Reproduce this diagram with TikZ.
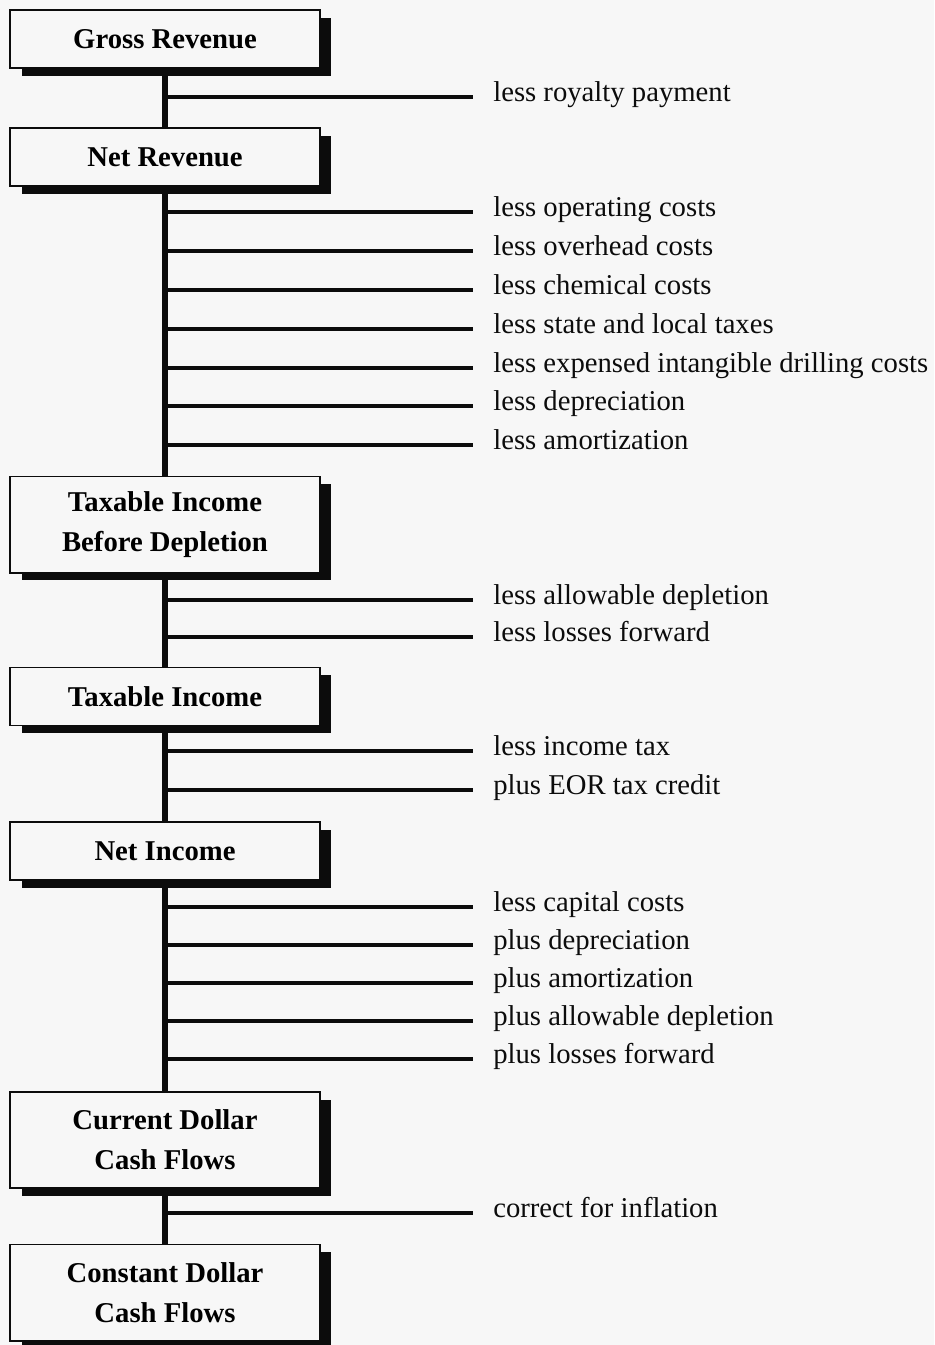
\documentclass[tikz,border=0pt]{standalone}
\usepackage{fontspec}
\setmainfont{Liberation Serif}
\usepackage{tikz}
\usetikzlibrary{positioning, shadows}
\usepackage{xcolor}
\definecolor{paper}{RGB}{247, 247, 247}
\definecolor{ink}{RGB}{12, 12, 12}
\newcommand{\flowfont}{\fontsize{20.4pt}{28.4pt}\selectfont}
\tikzset{
  stage/.style     = {rectangle, draw=ink, line width=1.4pt, fill=paper, minimum width=7.725cm, minimum height=1.45cm, align=center, inner sep=0pt, font=\flowfont\bfseries, drop shadow={shadow xshift=0.28cm, shadow yshift=-0.19cm, fill=ink, opacity=1}},
  stagetall/.style = {stage, minimum height=2.4cm},
  trunk/.style     = {ink, line width=4.2pt},
  branch/.style    = {ink, line width=2.6pt},
  adjust/.style    = {anchor=west, inner sep=0pt, text height=1.6ex, text depth=0.22ex, text=ink, font=\flowfont},
}

\begin{document}
\begin{tikzpicture}[x=0.025cm, y=-0.025cm]
  % page and margins
  \fill[paper] (0,0) rectangle (934,1345);
  \useasboundingbox (0,0) rectangle (934,1345);

  % stages of the cash flow calculation
  \node[stage]     (gross)  at (165,39)     {Gross Revenue};
  \node[stage]     (net)    at (165,157)    {Net Revenue};
  \node[stagetall] (tibd)   at (165,524.5)  {Taxable Income\\Before Depletion};
  \node[stage]     (taxinc) at (165,696.5)  {Taxable Income};
  \node[stage]     (netinc) at (165,851)    {Net Income};
  \node[stagetall] (curcf)  at (165,1140)   {Current Dollar\\Cash Flows};
  \node[stagetall] (concf)  at (165,1292.5) {Constant Dollar\\Cash Flows};

  % trunk between the stages
  \draw[trunk] (gross) -- (net);
  \draw[trunk] (net) -- (tibd);
  \draw[trunk] (tibd) -- (taxinc);
  \draw[trunk] (taxinc) -- (netinc);
  \draw[trunk] (netinc) -- (curcf);
  \draw[trunk] (curcf) -- (concf);

  % adjustments
  \node[adjust] (royalty)  at (493,97)   {less royalty payment};
  \node[adjust] (opcost)   at (493,212)  {less operating costs};
  \node[adjust] (ohcost)   at (493,251)  {less overhead costs};
  \node[adjust] (chemcost) at (493,290)  {less chemical costs};
  \node[adjust] (sltax)    at (493,329)  {less state and local taxes};
  \node[adjust] (idc)      at (493,368)  {less expensed intangible drilling costs};
  \node[adjust] (depr)     at (493,406)  {less depreciation};
  \node[adjust] (amort)    at (493,445)  {less amortization};
  \node[adjust] (depl)     at (493,600)  {less allowable depletion};
  \node[adjust] (lossfwd)  at (493,637)  {less losses forward};
  \node[adjust] (inctax)   at (493,751)  {less income tax};
  \node[adjust] (eorcred)  at (493,790)  {plus EOR tax credit};
  \node[adjust] (capcost)  at (493,907)  {less capital costs};
  \node[adjust] (pdepr)    at (493,945)  {plus depreciation};
  \node[adjust] (pamort)   at (493,983)  {plus amortization};
  \node[adjust] (pdepl)    at (493,1021) {plus allowable depletion};
  \node[adjust] (plossfwd) at (493,1059) {plus losses forward};
  \node[adjust] (inflat)   at (493,1213) {correct for inflation};

  \foreach \n in {royalty, opcost, ohcost, chemcost, sltax, idc, depr, amort, depl, lossfwd,
                  inctax, eorcred, capcost, pdepr, pamort, pdepl, plossfwd, inflat}
    \draw[branch] (\n.west -| gross.south) -- ([xshift=-0.5cm]\n.west);
\end{tikzpicture}
\end{document}
